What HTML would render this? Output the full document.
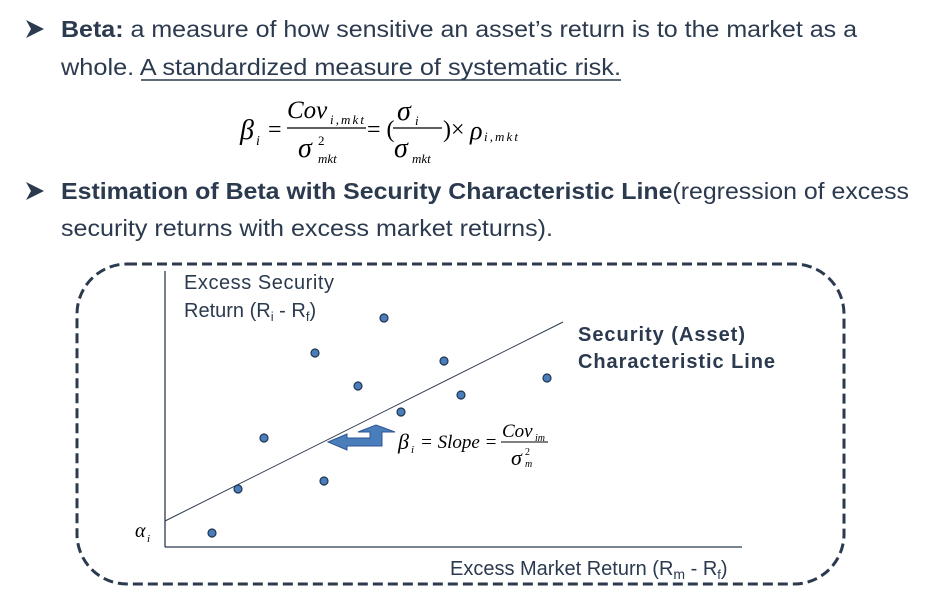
<!DOCTYPE html>
<html><head><meta charset="utf-8"><style>
html,body{margin:0;padding:0;background:#fff;}
svg{display:block;}
.t{font-family:"Liberation Sans",sans-serif;fill:#2b3a4e;font-size:23px;}
.m{font-family:"Liberation Serif",serif;fill:#000;font-style:italic;}
.s{font-family:"Liberation Sans",sans-serif;fill:#2b3a4e;font-size:20px;}
</style></head><body>
<svg width="945" height="602" viewBox="0 0 945 602" xmlns="http://www.w3.org/2000/svg">
<polygon points="26,20 44,29 26,38 31,29" fill="#2b3a4e"/>
<polygon points="26,182 44,191 26,200 31,191" fill="#2b3a4e"/>
<text class="t" x="61" y="37" textLength="796" lengthAdjust="spacingAndGlyphs"><tspan font-weight="bold">Beta:</tspan> a measure of how sensitive an asset’s return is to the market as a</text>
<text class="t" x="61" y="75" textLength="560" lengthAdjust="spacingAndGlyphs">whole. A standardized measure of systematic risk.</text>
<line x1="141" y1="80" x2="621" y2="80" stroke="#2b3a4e" stroke-width="1.6"/>
<text class="t" x="61" y="199" textLength="848" lengthAdjust="spacingAndGlyphs"><tspan font-weight="bold">Estimation of Beta with Security Characteristic Line</tspan>(regression of excess</text>
<text class="t" x="61" y="236" textLength="492" lengthAdjust="spacingAndGlyphs">security returns with excess market returns).</text>
<g class="m">
<text x="240" y="139" font-size="28">β</text><text x="256" y="145" font-size="14">i</text>
<text x="268" y="137" font-size="24" font-style="normal">=</text>
<text x="287" y="118" font-size="25">Cov</text><text x="330" y="124" font-size="13" textLength="34">i,mkt</text>
<line x1="287" y1="128" x2="366" y2="128" stroke="#000" stroke-width="1.2"/>
<text x="298" y="157" font-size="28">σ</text><text x="318" y="145" font-size="13" font-style="normal">2</text><text x="318" y="163" font-size="13">mkt</text>
<text x="367" y="137" font-size="24" font-style="normal">= (</text>
<text x="397" y="120" font-size="28">σ</text><text x="415" y="125" font-size="13">i</text>
<line x1="393" y1="128" x2="442" y2="128" stroke="#000" stroke-width="1.2"/>
<text x="394" y="157" font-size="28">σ</text><text x="412" y="163" font-size="13">mkt</text>
<text x="443" y="137" font-size="24" font-style="normal">)×</text>
<text x="470" y="139" font-size="26">ρ</text><text x="484" y="141" font-size="13" textLength="34">i,mkt</text>
</g>
<rect x="77" y="264" width="767" height="320" rx="50" ry="50" fill="none" stroke="#2b3a4e" stroke-width="3" stroke-dasharray="10,5"/>
<line x1="165" y1="271" x2="165" y2="547" stroke="#2b3a4e" stroke-width="1.3"/>
<line x1="165" y1="547" x2="742" y2="547" stroke="#2b3a4e" stroke-width="1.3"/>
<line x1="165" y1="521" x2="563" y2="322" stroke="#2b3a4e" stroke-width="1"/>
<text class="s" x="184" y="289" textLength="150">Excess Security</text>
<text class="s" x="184" y="317">Return (R<tspan font-size="13" dy="4">i</tspan><tspan dy="-4"> - R</tspan><tspan font-size="13" dy="4">f</tspan><tspan dy="-4">)</tspan></text>
<text class="s" x="450" y="575">Excess Market Return (R<tspan font-size="14" dy="4">m</tspan><tspan dy="-4"> - R</tspan><tspan font-size="13" dy="4">f</tspan><tspan dy="-4">)</tspan></text>
<text class="s" x="578" y="341" font-weight="bold" textLength="167">Security (Asset)</text>
<text class="s" x="578" y="368" font-weight="bold" textLength="197">Characteristic Line</text>
<g class="m"><text x="135" y="537" font-size="20">α</text><text x="147" y="542" font-size="11">i</text></g>
<g fill="#4a7ebb" stroke="#1f3550" stroke-width="1.2">
<circle cx="384" cy="318" r="4"/><circle cx="315" cy="353" r="4"/><circle cx="444" cy="361" r="4"/>
<circle cx="358" cy="386" r="4"/><circle cx="547" cy="378" r="4"/><circle cx="461" cy="395" r="4"/>
<circle cx="401" cy="412" r="4"/><circle cx="264" cy="438" r="4"/><circle cx="238" cy="489" r="4"/>
<circle cx="324" cy="481" r="4"/><circle cx="212" cy="533" r="4"/>
</g>
<polygon points="328,442 347,434 347,438 370,438 370,432 358,432 376,425 395,432 382,432 382,446 347,446 347,450" fill="#4a7ebb" stroke="#2f5597" stroke-width="1"/>
<g class="m">
<text x="398" y="449" font-size="22">β</text><text x="411" y="453" font-size="11">i</text>
<text x="420" y="448" font-size="19">= Slope =</text>
<text x="502" y="437" font-size="19">Cov</text><text x="535" y="441" font-size="10">im</text>
<line x1="501" y1="442" x2="548" y2="442" stroke="#000" stroke-width="1"/>
<text x="511" y="465" font-size="22">σ</text><text x="525" y="455" font-size="10" font-style="normal">2</text><text x="525" y="467" font-size="10">m</text>
</g>
</svg>
</body></html>
